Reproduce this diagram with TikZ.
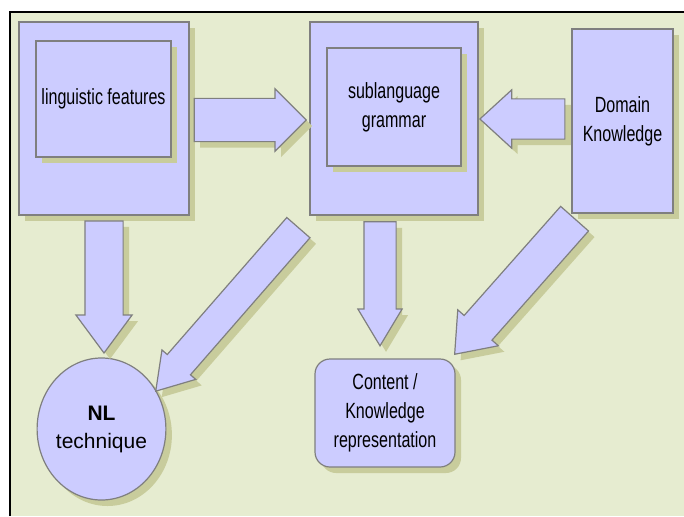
\documentclass[tikz,border=0pt]{standalone}
\usepackage{fontspec}
\setmainfont{Liberation Sans}
\newfontfamily\narrowfont[FakeStretch=0.73]{Liberation Sans}
\usetikzlibrary{shapes.arrows}
\usetikzlibrary{shapes.geometric}
\usetikzlibrary{shadows}

\definecolor{boxfill}{HTML}{CCCCFF}
\definecolor{boxline}{HTML}{7F7F7F}
\definecolor{boxshadow}{HTML}{C8CC9C}
\definecolor{canvasbg}{HTML}{E6ECD0}

\tikzset{
    shaded/.style={fill=boxfill, draw=boxline, line width=1.2pt,
        drop shadow={shadow xshift=6pt, shadow yshift=-6pt, fill=boxshadow, opacity=1}},
    blockbox/.style={shaded, rectangle, inner sep=0pt},
    boxtext/.style={font=\narrowfont\fontsize{22}{29}\selectfont, align=center},
    fatarrow/.style={shaded, single arrow, inner xsep=0pt, anchor=tip},
}

\begin{document}
\begin{tikzpicture}[x=1pt, y=-1pt]
            \useasboundingbox (0,0) rectangle (684,516);
            \fill[canvasbg] (10,12) rectangle (684,516);
            \draw[line width=2pt] (10,516) -- (10,12) -- (684,12);

            \node[blockbox, minimum width=170pt, minimum height=193pt] (lingouter) at (104,118.5) {};
            \node[blockbox, boxtext, minimum width=135pt, minimum height=116pt] (ling) at (103.5,99) {linguistic features};
            \node[blockbox, minimum width=168pt, minimum height=193pt] (gramouter) at (394,118.5) {};
            \node[blockbox, boxtext, minimum width=134pt, minimum height=118pt] (gram) at (394,107) {sublanguage\\grammar};
            \node[blockbox, boxtext, minimum width=101pt, minimum height=184pt] (domain) at (622.5,121) {Domain\\Knowledge};

            \node[shaded, ellipse, inner sep=0pt, minimum width=123pt, minimum height=142pt,
                font=\fontsize{21}{28}\selectfont, align=center] (nltech) at (101.5,429) {\textbf{NL}\\technique};
            \node[blockbox, boxtext, rounded corners=15pt, minimum width=140pt, minimum height=108pt] (content) at (385,413) {Content /\\Knowledge\\representation};

            \node[fatarrow, inner ysep=21pt, single arrow head extend=9.5pt, minimum height=112pt] (ling2gram) at (307,120) {};
            \node[fatarrow, rotate=180, inner ysep=19.5pt, single arrow head extend=9pt, single arrow tip angle=85, minimum height=85pt] (dom2gram) at (479,119) {};
            \node[fatarrow, rotate=270, inner ysep=18.5pt, single arrow head extend=9pt, single arrow tip angle=73, minimum height=132pt] (ling2nl) at (104,354) {};
            \node[fatarrow, rotate=270, inner ysep=15.5pt, single arrow head extend=6pt, single arrow tip angle=62, minimum height=124pt] (gram2con) at (380,347) {};
            \node[fatarrow, rotate=228.9, inner ysep=14.8pt, single arrow head extend=7pt, single arrow tip angle=65, minimum height=217pt] (gram2nl) at (155,392) {};
            \node[fatarrow, rotate=228.5, inner ysep=18pt, single arrow head extend=8.5pt, single arrow tip angle=75, minimum height=181pt] (dom2con) at (454,355) {};
\end{tikzpicture}
\end{document}
